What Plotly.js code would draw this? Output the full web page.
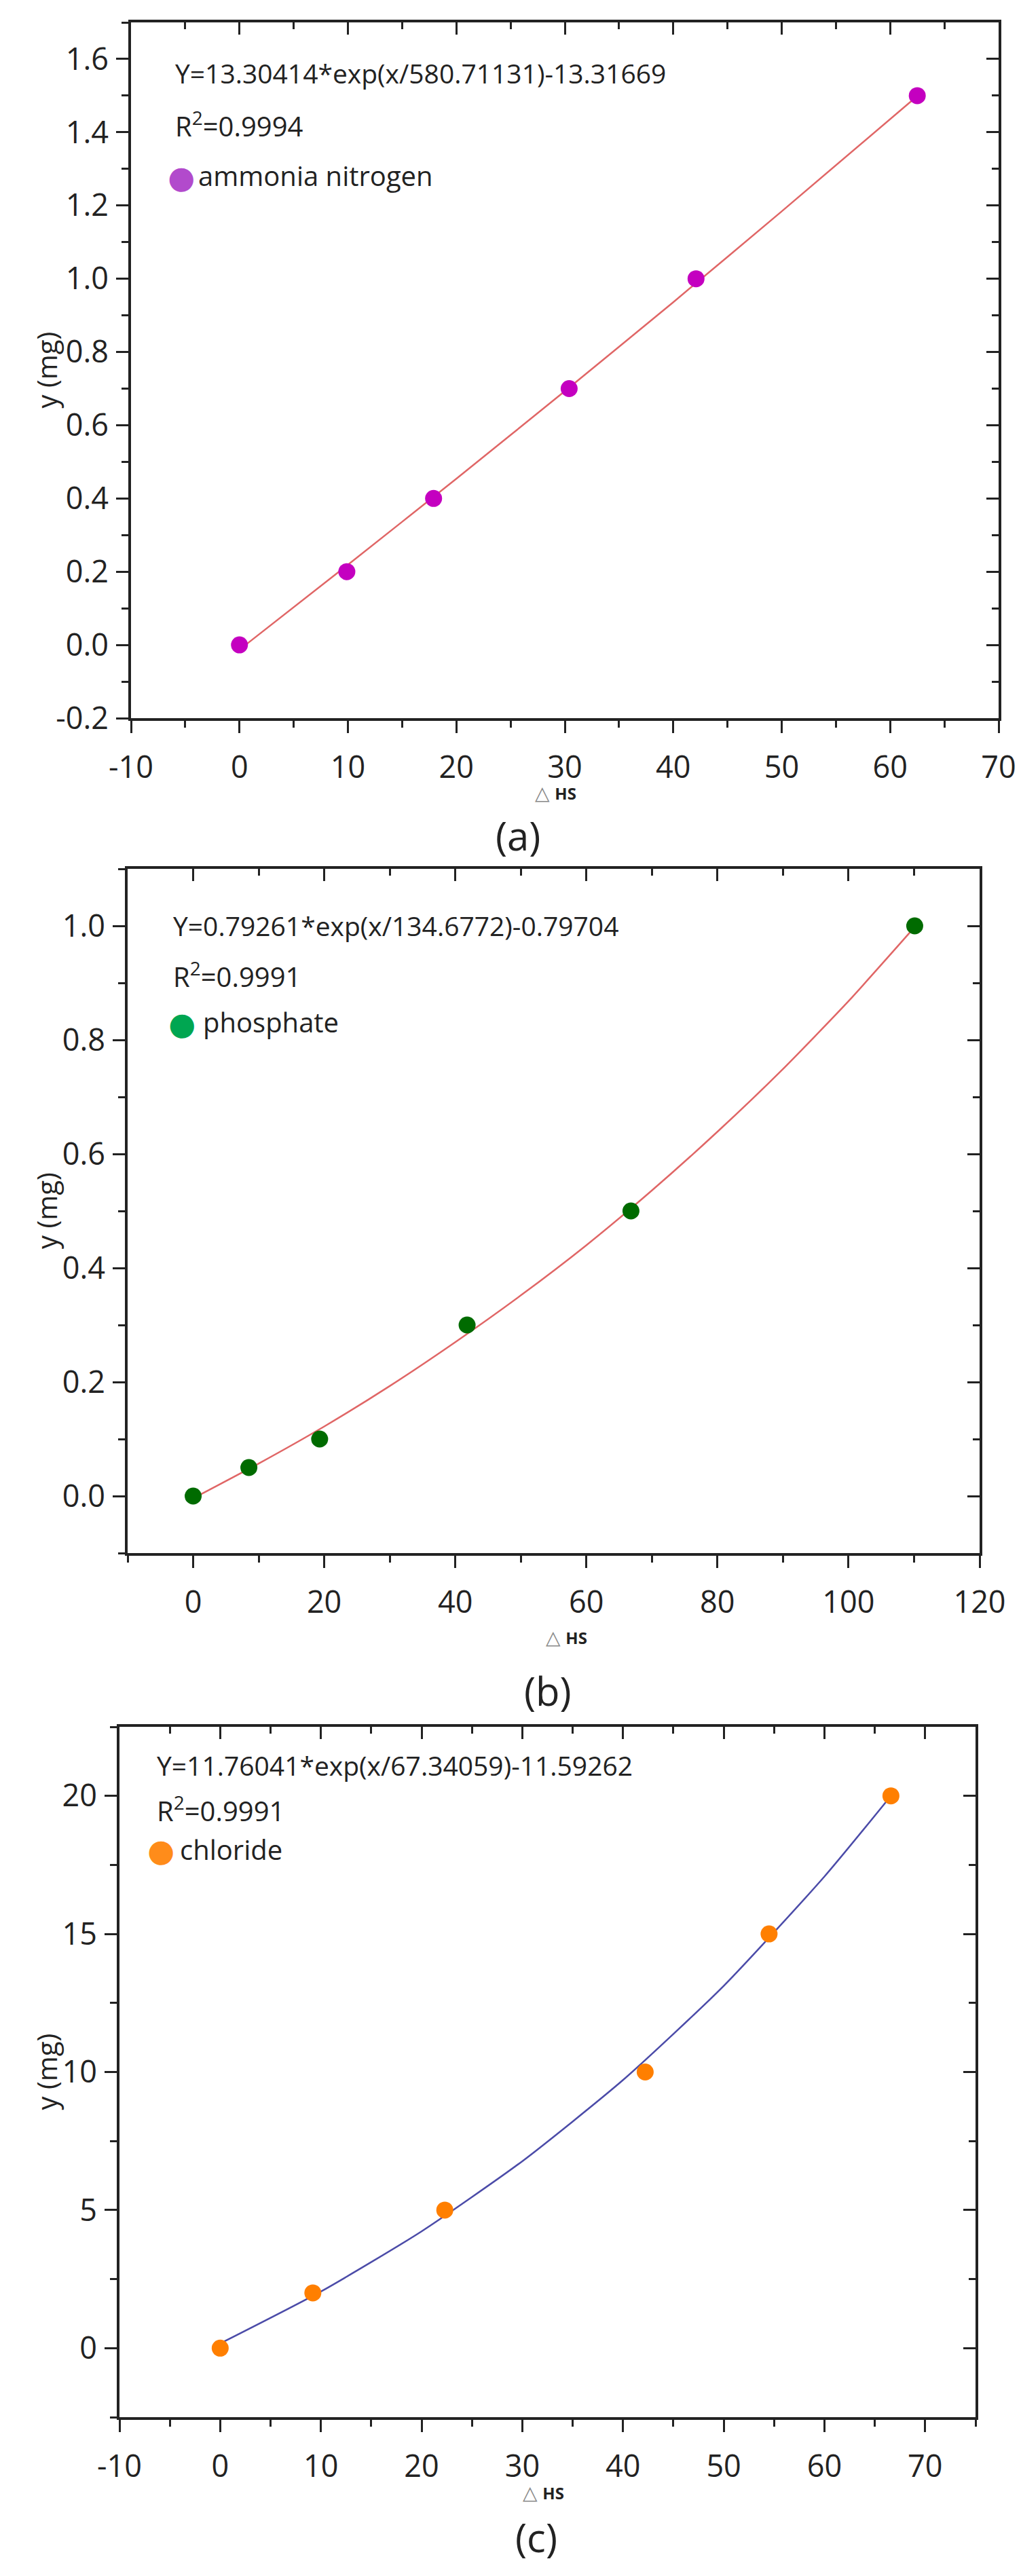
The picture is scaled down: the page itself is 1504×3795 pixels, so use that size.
<!DOCTYPE html>
<html>
<head>
<meta charset="utf-8">
<script src="https://cdn.plot.ly/plotly-3.0.1.min.js"></script>
<style>
  html, body { margin: 0; padding: 0; background: #fff; }
  #chart { width: 1504px; height: 3795px; }
</style>
</head>
<body>
<div id="chart"></div>
<script>
// (a) ammonia nitrogen
const ammoniaX = [0, 9.9, 17.9, 30.4, 42.1, 62.5];
const ammoniaY = [0, 0.2, 0.4, 0.7, 1.0, 1.5];
const ammoniaFitX = [0, 10, 20, 30, 40, 50, 62.5];
const ammoniaFitY = [-0.013, 0.219, 0.454, 0.693, 0.936, 1.184, 1.499];

// (b) phosphate
const phosphateX = [0, 8.5, 19.3, 41.8, 66.8, 110.1];
const phosphateY = [0, 0.05, 0.1, 0.3, 0.5, 1.0];
const phosphateFitX = [0, 10, 20, 30, 40, 50, 60, 70, 80, 90, 100, 110.1];
const phosphateFitY = [-0.004, 0.057, 0.122, 0.193, 0.270, 0.352, 0.440, 0.536, 0.639, 0.749, 0.868, 0.998];

// (c) chloride
const chlorideX = [0, 9.2, 22.3, 42.2, 54.5, 66.6];
const chlorideY = [0, 2, 5, 10, 15, 20];
const chlorideFitX = [0, 10, 20, 30, 40, 50, 60, 66.6];
const chlorideFitY = [0.168, 2.05, 4.23, 6.77, 9.71, 13.12, 17.08, 20.0];

// tick labels
const xTicksA = [-10, 0, 10, 20, 30, 40, 50, 60, 70];
const xTickTextA = ['-10', '0', '10', '20', '30', '40', '50', '60', '70'];
const yTicksA = [-0.2, 0, 0.2, 0.4, 0.6, 0.8, 1.0, 1.2, 1.4, 1.6];
const yTickTextA = ['-0.2', '0.0', '0.2', '0.4', '0.6', '0.8', '1.0', '1.2', '1.4', '1.6'];
const xTicksB = [0, 20, 40, 60, 80, 100, 120];
const xTickTextB = ['0', '20', '40', '60', '80', '100', '120'];
const yTicksB = [0, 0.2, 0.4, 0.6, 0.8, 1.0];
const yTickTextB = ['0.0', '0.2', '0.4', '0.6', '0.8', '1.0'];
const xTicksC = [-10, 0, 10, 20, 30, 40, 50, 60, 70];
const xTickTextC = ['-10', '0', '10', '20', '30', '40', '50', '60', '70'];
const yTicksC = [0, 5, 10, 15, 20];
const yTickTextC = ['0', '5', '10', '15', '20'];

// text
const equations = [
  'Y=13.30414*exp(x/580.71131)-13.31669',
  'Y=0.79261*exp(x/134.6772)-0.79704',
  'Y=11.76041*exp(x/67.34059)-11.59262'
];
const rSquared = ['R<sup>2</sup>=0.9994', 'R<sup>2</sup>=0.9991', 'R<sup>2</sup>=0.9991'];
const seriesNames = ['ammonia nitrogen', 'phosphate', 'chloride'];
const panelLabels = ['(a)', '(b)', '(c)'];

const W = 1504;
const H = 3795;
const FONT = '"Open Sans", "Liberation Sans", sans-serif';
const INK = '#222';

const px = (v) => v / W;
const py = (v) => 1 - v / H;

// panel geometry in page pixels
const boxes = [
  { left: 193, right: 1471, top: 33, bottom: 1058 },
  { left: 188, right: 1443, top: 1280, bottom: 2288 },
  { left: 176, right: 1437, top: 2544, bottom: 3561 }
];

const panels = [
  {
    x: ammoniaX, y: ammoniaY, fx: ammoniaFitX, fy: ammoniaFitY,
    color: '#C400C0', key: '#B24ACC', line: '#E06666',
    xr: [-10, 70], yr: [-0.2, 1.7], xt: [xTicksA, xTickTextA], yt: [yTicksA, yTickTextA],
    xMinor: [-10, 5], yMinor: [-0.2, 0.1],
    text: { eq: 108, r2: 184, leg: 259, left: 256, mark: 267, name: 290 },
    titleY: 1167, labelY: 1230, titleX: 818, labelX: 763
  },
  {
    x: phosphateX, y: phosphateY, fx: phosphateFitX, fy: phosphateFitY,
    color: '#006B00', key: '#00A651', line: '#E06666',
    xr: [-10, 120], yr: [-0.1, 1.1], xt: [xTicksB, xTickTextB], yt: [yTicksB, yTickTextB],
    xMinor: [0, 10], yMinor: [0, 0.1],
    text: { eq: 1363, r2: 1436, leg: 1506, left: 253, mark: 268, name: 297 },
    titleY: 2411, labelY: 2490, titleX: 834, labelX: 807
  },
  {
    x: chlorideX, y: chlorideY, fx: chlorideFitX, fy: chlorideFitY,
    color: '#FF7F00', key: '#FF8C1A', line: '#4B4BA8',
    xr: [-10, 75], yr: [-2.5, 22.5], xt: [xTicksC, xTickTextC], yt: [yTicksC, yTickTextC],
    xMinor: [-10, 5], yMinor: [0, 2.5],
    text: { eq: 2600, r2: 2665, leg: 2724, left: 229, mark: 237, name: 263 },
    titleY: 3671, labelY: 3737, titleX: 800, labelX: 790
  }
];

const data = [];
const layout = {
  width: W,
  height: H,
  margin: { l: 0, r: 0, t: 0, b: 0 },
  paper_bgcolor: '#fff',
  plot_bgcolor: '#fff',
  showlegend: false,
  annotations: [],
  font: { family: FONT, color: INK }
};

const lineStyle = { showline: true, linewidth: 4, linecolor: INK, showgrid: false, zeroline: false };
const tickBase = { tickwidth: 3, tickcolor: INK, ticklen: 18 };
const minorTicks = (m, dir) => ({
  tickmode: 'linear', tick0: m[0], dtick: m[1], ticks: dir,
  ticklen: 10, tickwidth: 3, tickcolor: INK, showgrid: false
});

panels.forEach((p, i) => {
  const n = i + 1;
  const xName = n === 1 ? 'x' : 'x' + n;
  const yName = n === 1 ? 'y' : 'y' + n;
  const xKey = n === 1 ? 'xaxis' : 'xaxis' + n;
  const yKey = n === 1 ? 'yaxis' : 'yaxis' + n;
  const topName = 'x' + (n + 3);
  const rightName = 'y' + (n + 3);
  const box = boxes[i];

  data.push({
    type: 'scatter', mode: 'lines', x: p.fx, y: p.fy,
    xaxis: xName, yaxis: yName, hoverinfo: 'skip',
    line: { color: p.line, width: 2.5, shape: 'spline', smoothing: 0.6 }
  });
  data.push({
    type: 'scatter', mode: 'markers', x: p.x, y: p.y, name: seriesNames[i],
    xaxis: xName, yaxis: yName,
    marker: { color: p.color, size: 25, line: { width: 0 } }
  });
  // empty traces so the mirrored axes get drawn
  data.push({ type: 'scatter', x: [], y: [], xaxis: topName, yaxis: yName, hoverinfo: 'skip' });
  data.push({ type: 'scatter', x: [], y: [], xaxis: xName, yaxis: rightName, hoverinfo: 'skip' });

  layout[xKey] = Object.assign({}, lineStyle, tickBase, {
    domain: [px(box.left), px(box.right)],
    range: p.xr, anchor: yName,
    tickmode: 'array', tickvals: p.xt[0], ticktext: p.xt[1], ticks: 'outside',
    ticklabelstandoff: 12,
    tickfont: { family: FONT, size: 45, color: INK },
    minor: minorTicks(p.xMinor, 'outside')
  });
  layout[yKey] = Object.assign({}, lineStyle, tickBase, {
    domain: [py(box.bottom), py(box.top)],
    range: p.yr, anchor: xName,
    tickmode: 'array', tickvals: p.yt[0], ticktext: p.yt[1], ticks: 'outside',
    ticklabelstandoff: 2,
    tickfont: { family: FONT, size: 45, color: INK },
    minor: minorTicks(p.yMinor, 'outside')
  });

  // mirrored top/right axes with inward ticks
  layout['xaxis' + (n + 3)] = Object.assign({}, lineStyle, tickBase, {
    overlaying: xName, anchor: yName, side: 'top', range: p.xr,
    tickmode: 'array', tickvals: p.xt[0], ticks: 'inside', showticklabels: false,
    minor: minorTicks(p.xMinor, 'inside')
  });
  layout['yaxis' + (n + 3)] = Object.assign({}, lineStyle, tickBase, {
    overlaying: yName, anchor: xName, side: 'right', range: p.yr,
    tickmode: 'array', tickvals: p.yt[0], ticks: 'inside', showticklabels: false,
    minor: minorTicks(p.yMinor, 'inside')
  });

  const note = (text, xPix, yPix, size, anchor) => ({
    xref: 'paper', yref: 'paper', x: px(xPix), y: py(yPix),
    xanchor: anchor || 'left', yanchor: 'middle', showarrow: false, text,
    font: { family: FONT, size, color: INK }
  });

  layout.annotations.push(note(equations[i], p.text.left, p.text.eq, 39));
  layout.annotations.push(note(rSquared[i], p.text.left, p.text.r2, 40));

  // legend key
  const key = note('\u25CF', p.text.mark, p.text.leg + 2, 46, 'center');
  key.font = { family: 'DejaVu Sans', size: 46, color: p.key };
  layout.annotations.push(key);
  layout.annotations.push(note(seriesNames[i], p.text.name, p.text.leg, 40));

  // y axis title
  layout.annotations.push(Object.assign(
    note('y (mg)', 68, (box.top + box.bottom) / 2, 40, 'center'),
    { textangle: -90 }
  ));
  // x axis title
  layout.annotations.push(note(
    '<span style="color:#888">\u25B3</span> <span style="font-size:24px"><b>HS</b></span>',
    p.titleX, p.titleY, 28, 'center'
  ));
  // panel label
  layout.annotations.push(note(panelLabels[i], p.labelX, p.labelY, 58, 'center'));
});

Plotly.newPlot('chart', data, layout, { displayModeBar: false, staticPlot: true });
</script>
</body>
</html>
